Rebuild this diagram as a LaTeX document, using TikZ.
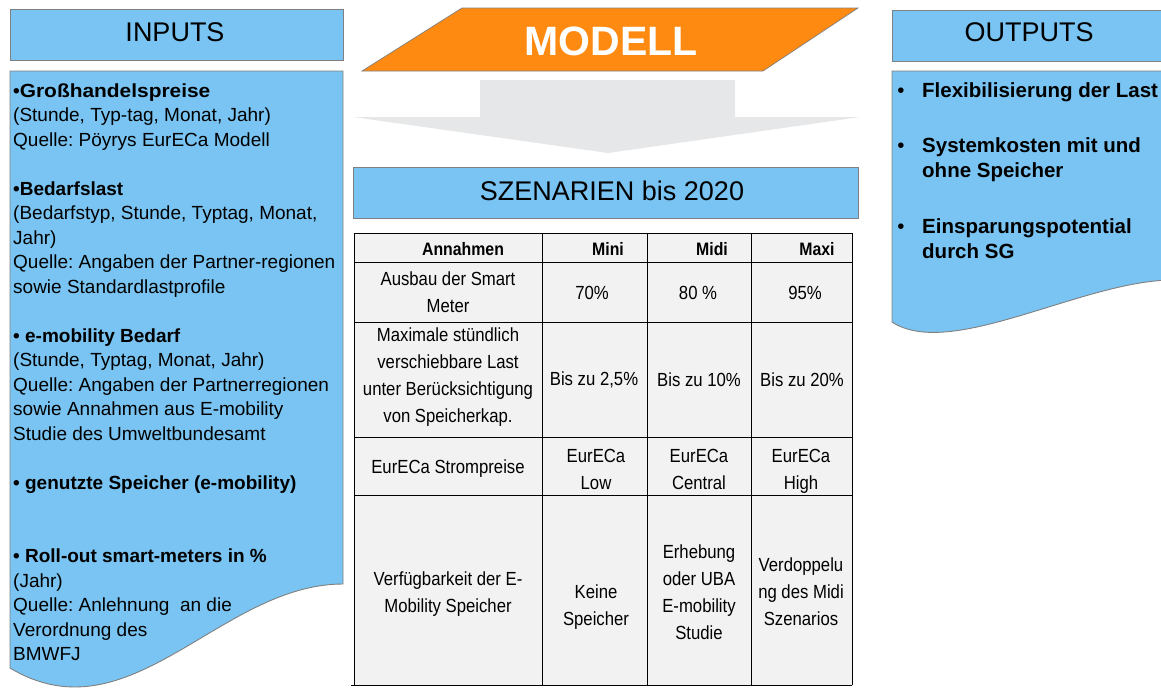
\documentclass[tikz,border=0pt]{standalone}
\usepackage{fontspec}
\setmainfont{Liberation Sans}
\newfontfamily\tabfont[FakeStretch=0.88]{Liberation Sans}
\newfontfamily\widefont[FakeStretch=1.1]{Liberation Sans}
\frenchspacing
\definecolor{boxblue}{RGB}{121,196,242}
\definecolor{boxline}{RGB}{128,128,128}
\definecolor{modorange}{RGB}{255,138,18}
\definecolor{arrowgray}{RGB}{230,231,232}
\definecolor{tabfill}{RGB}{242,242,242}
\tikzset{
  hdrbox/.style={draw=boxline, fill=boxblue, line width=0.9pt, inner sep=0pt},
  bodybox/.style={draw=boxline, fill=boxblue, line width=0.9pt},
  hdrtext/.style={inner sep=0pt, font=\fontsize{27}{32}\selectfont},
  intext/.style={inner sep=0pt, align=left, font=\fontsize{19}{24.5}\selectfont},
  outtext/.style={inner sep=0pt, align=left, font=\bfseries\fontsize{20.5}{25.5}\selectfont},
  outbullet/.style={inner sep=0pt, font=\fontsize{20.5}{25.5}\selectfont},
  tabline/.style={draw=black, line width=0.9pt},
  tabhead/.style={inner sep=0pt, align=center, font=\tabfont\bfseries\fontsize{18}{27}\selectfont},
  tabcell/.style={inner sep=0pt, align=center, font=\tabfont\fontsize{19}{27}\selectfont},
}
\begin{document}
\begin{tikzpicture}[x=1pt,y=-1pt]
\useasboundingbox (0,0) rectangle (1161,699);

% INPUTS
\node[hdrbox, minimum width=333, minimum height=51] (inhdr) at (176.5,35) {};
\node[hdrtext] (inhdrt) at (175,32.5) {INPUTS};
\draw[bodybox] (10,71) -- (343,71) -- (343,584) .. controls (220,584) and (130,740) .. (10,668) -- cycle;
\node[intext, anchor=north west] (inbody) at (13,79.85) {\strut\textbf{•{\widefont Großhandelspreise}}\\
(Stunde, Typ-tag, Monat, Jahr)\\
Quelle: Pöyrys EurECa Modell\\[24.5pt]
\textbf{•Bedarfslast}\\
(Bedarfstyp, Stunde, Typtag, Monat,\\
Jahr)\\
Quelle: Angaben der Partner-regionen\\
sowie Standardlastprofile\\[24.5pt]
\textbf{• e-mobility Bedarf}\\
(Stunde, Typtag, Monat, Jahr)\\
Quelle: Angaben der Partnerregionen\\
sowie Annahmen aus E-mobility\\
Studie des Umweltbundesamt\\[24.5pt]
\textbf{• genutzte Speicher (e-mobility)}\\[49pt]
\textbf{• Roll-out smart-meters in \%}\\
(Jahr)\\
Quelle: Anlehnung\ \ an die\\
Verordnung des\\
BMWFJ};

% OUTPUTS
\node[hdrbox, minimum width=278, minimum height=51, anchor=north west] (outhdr) at (892,9.5) {};
\node[hdrtext] (outhdrt) at (1029,32.5) {OUTPUTS};
\draw[bodybox] (892,71) -- (1170,71) -- (1170,280) .. controls (1080,282) and (950,360) .. (892,322) -- cycle;
\node[outbullet, anchor=base] (ob1) at (901,97) {•};
\node[outbullet, anchor=base] (ob2) at (901,152) {•};
\node[outbullet, anchor=base] (ob3) at (901,233) {•};
\node[outtext, anchor=north west] (o1) at (922,79.15) {\strut Flexibilisierung der Last};
\node[outtext, anchor=north west] (o2) at (922,134.15) {\strut Systemkosten mit und\\ohne Speicher};
\node[outtext, anchor=north west] (o3) at (922,215.15) {\strut Einsparungspotential\\durch SG};

% MODELL
\draw[draw=boxline, fill=modorange, line width=0.7pt] (462,8) -- (858,8) -- (763,71) -- (362,71) -- cycle;
\node[inner sep=0pt, text=white, font=\bfseries\fontsize{41}{48}\selectfont] (modell) at (611,41) {MODELL};

% gray arrow
\fill[arrowgray] (480,80) -- (735,80) -- (735,117) -- (860,117) -- (608,153) -- (353,117) -- (480,117) -- cycle;

% SZENARIEN
\node[hdrbox, minimum width=505, minimum height=51, anchor=north west] (szen) at (353,167) {};
\node[hdrtext] (szent) at (612,191) {SZENARIEN bis 2020};

% table
\fill[tabfill] (354,233) rectangle (852,685);
\draw[tabline] (354,233) -- (852,233) -- (852,685);
\draw[tabline] (354,233) -- (354,685);
\draw[tabline] (351,685) -- (852,685);
\foreach \xx in {542,647,751} \draw[tabline] (\xx,233) -- (\xx,685);
\foreach \yy in {262,322,437,495} \draw[tabline] (354,\yy) -- (852,\yy);

\node[tabhead] (h1) at (463,249) {Annahmen};
\node[tabhead] (h2) at (608,249) {Mini};
\node[tabhead] (h3) at (712,249) {Midi};
\node[tabhead] (h4) at (817,249) {Maxi};

\node[tabcell] (r1c1) at (448,292) {Ausbau der Smart\\Meter};
\node[tabcell] (r1c2) at (592,293) {70\%};
\node[tabcell] (r1c3) at (698,293) {80 \%};
\node[tabcell] (r1c4) at (805,293) {95\%};

\node[tabcell] (r2c1) at (448,377) {Maximale stündlich\\verschiebbare Last\\unter Berücksichtigung\\von Speicherkap.};
\node[tabcell] (r2c2) at (594,380) {Bis zu 2,5\%};
\node[tabcell] (r2c3) at (699,380) {Bis zu 10\%};
\node[tabcell] (r2c4) at (802,380) {Bis zu 20\%};

\node[tabcell] (r3c1) at (448,469) {EurECa Strompreise};
\node[tabcell] (r3c2) at (596,469) {EurECa\\Low};
\node[tabcell] (r3c3) at (699,469) {EurECa\\Central};
\node[tabcell] (r3c4) at (801,471) {EurECa\\High};

\node[tabcell] (r4c1) at (448,594) {Verfügbarkeit der E-\\Mobility Speicher};
\node[tabcell] (r4c2) at (596,607) {Keine\\Speicher};
\node[tabcell] (r4c3) at (699,592) {Erhebung\\oder UBA\\E-mobility\\Studie};
\node[tabcell] (r4c4) at (801,592) {Verdoppelu\\ng des Midi\\Szenarios};
\end{tikzpicture}
\end{document}
